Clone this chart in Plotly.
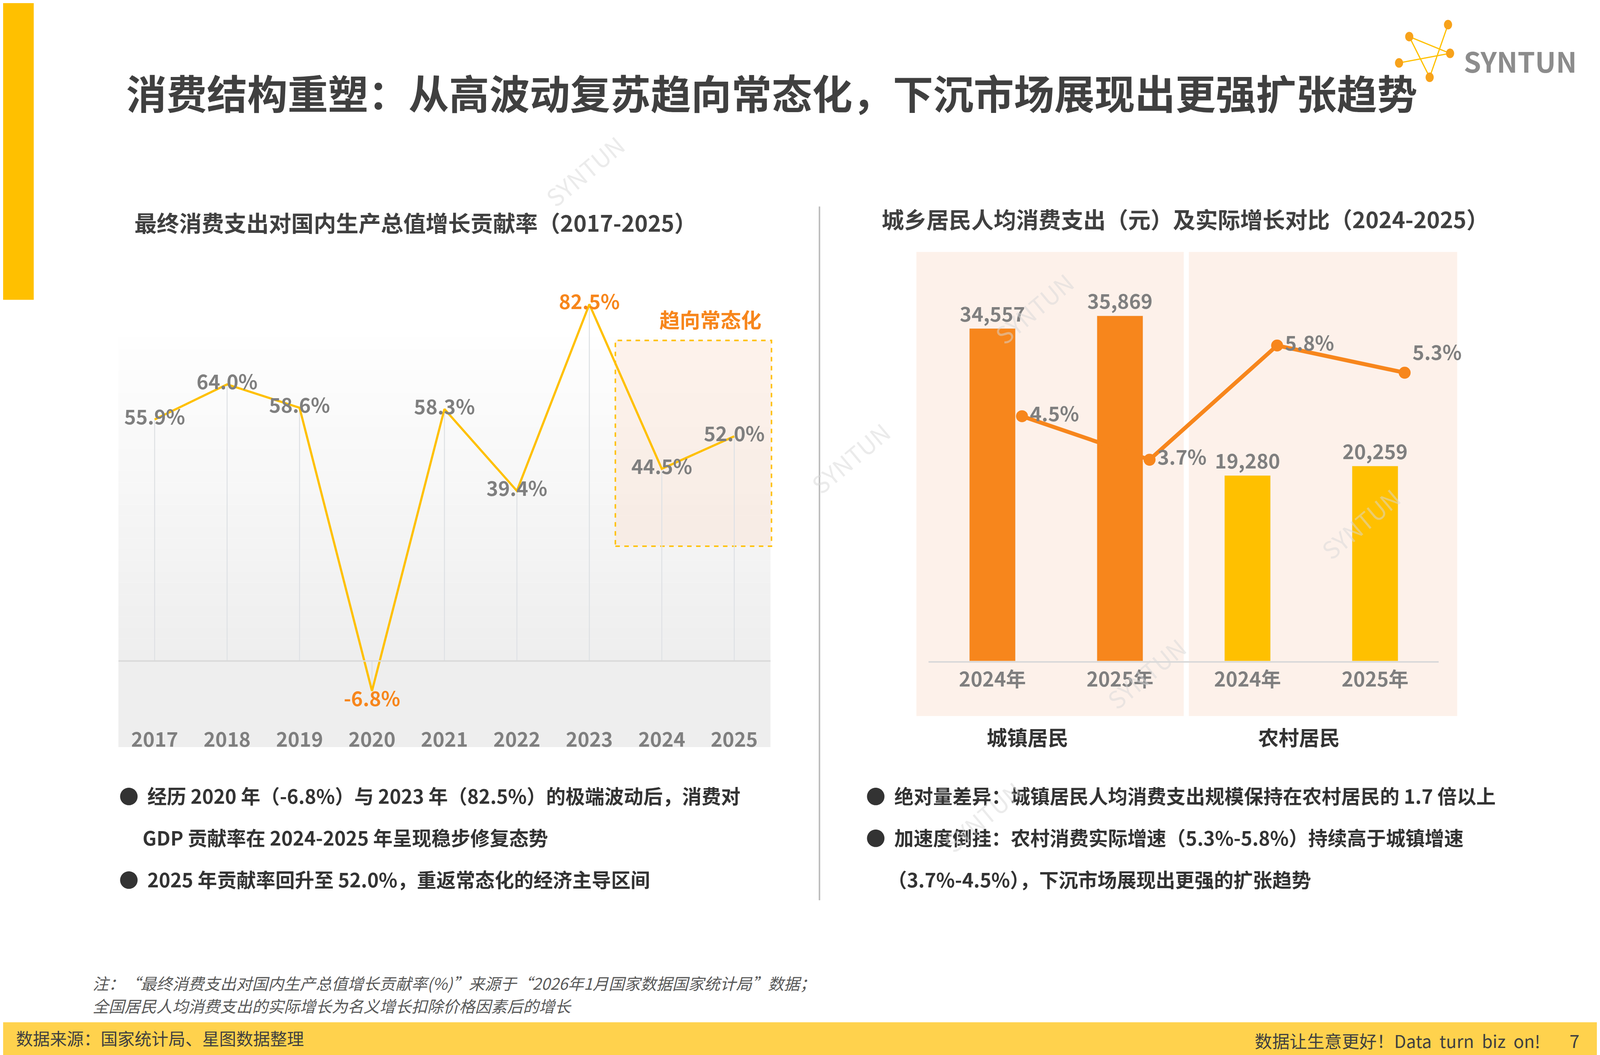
import plotly.graph_objects as go

# data
years = ["2017", "2018", "2019", "2020", "2021", "2022", "2023", "2024", "2025"]
contrib = [55.9, 64.0, 58.6, -6.8, 58.3, 39.4, 82.5, 44.5, 52.0]

groups = ["2024年", "2025年", "2024年", "2025年"]
spend = [34557, 35869, 19280, 20259]
growth = [4.5, 3.7, 5.8, 5.3]

S = 4000 / 1568
def px(x): return x / 1568
def py(y): return 1 - y / 882
def fs(v): return v * S

FONT = "Noto Sans CJK SC"
GRAY = "#7F7F7F"
ORANGE = "#F7861C"
YELLOW = "#FFC000"

fig = go.Figure()

# left: thin drop lines + line
fig.add_trace(go.Bar(x=list(range(9)), y=contrib, width=0.012,
                     marker_color="#DDDDDD", xaxis="x", yaxis="y", hoverinfo="skip"))
fig.add_trace(go.Scatter(x=list(range(9)), y=contrib, mode="lines",
                         line=dict(color="#FFC000", width=fs(2.2)), xaxis="x", yaxis="y"))
lab_col = [ORANGE if v in (82.5, -6.8) else GRAY for v in contrib]
lab_pos = ["bottom center" if v < 0 else "middle center" for v in contrib]
fig.add_trace(go.Scatter(x=list(range(9)), y=contrib, mode="text",
                         text=[f"<b>{v:.1f}%</b>" for v in contrib], textposition=lab_pos,
                         textfont=dict(family=FONT, size=fs(20), color=lab_col),
                         cliponaxis=False, xaxis="x", yaxis="y"))

# right: bars + growth line
fig.add_trace(go.Bar(x=list(range(4)), y=spend, width=0.36,
                     marker_color=[ORANGE, ORANGE, YELLOW, YELLOW],
                     text=[f"<b>{v:,}</b>" for v in spend], textposition="outside",
                     constraintext="none",
                     textfont=dict(family=FONT, size=fs(20), color=GRAY),
                     cliponaxis=False, xaxis="x2", yaxis="y2"))
fig.add_trace(go.Scatter(x=[i + 0.232 for i in range(4)], y=growth, mode="lines+markers+text",
                         line=dict(color=ORANGE, width=fs(4)),
                         marker=dict(color=ORANGE, size=fs(12)),
                         text=[f"<b>{v}%</b>" for v in growth],
                         textposition=["middle right", "middle right", "middle right", "top right"],
                         textfont=dict(family=FONT, size=fs(20), color=GRAY),
                         cliponaxis=False, xaxis="x2", yaxis="y3"))

# left gradient background
shapes = []
n = 30
for i in range(n):
    y0 = 270 + (550 - 270) * i / n
    y1 = 270 + (550 - 270) * (i + 1) / n
    g = int(255 - 17 * (i / n))
    shapes.append(dict(type="rect", xref="paper", yref="paper", x0=px(113), x1=px(752),
                       y0=py(y1), y1=py(y0), line_width=0, fillcolor=f"rgb({g},{g},{g})", layer="below"))
shapes.append(dict(type="rect", xref="paper", yref="paper", x0=px(113), x1=px(752),
                   y0=py(622), y1=py(550), line_width=0, fillcolor="#EEEEEE", layer="below"))
# highlight box
shapes.append(dict(type="rect", xref="paper", yref="paper", x0=px(600), x1=px(753),
                   y0=py(454), y1=py(282), line=dict(color="#FFC000", width=fs(1.5), dash="dash"),
                   fillcolor="rgba(252,220,200,0.35)", layer="below"))
# right group backgrounds
for a, b in [(895, 1157), (1162, 1425)]:
    shapes.append(dict(type="rect", xref="paper", yref="paper", x0=px(a), x1=px(b),
                       y0=py(596), y1=py(208), line_width=0, fillcolor="#FDF1EA", layer="below"))
# divider
shapes.append(dict(type="line", xref="paper", yref="paper", x0=px(800), x1=px(800),
                   y0=py(750), y1=py(170), line=dict(color="#BBBBBB", width=fs(1.5))))
# top-left yellow bar and footer bar
shapes.append(dict(type="rect", xref="paper", yref="paper", x0=0, x1=px(30), y0=py(248), y1=1,
                   line_width=0, fillcolor=YELLOW))
shapes.append(dict(type="rect", xref="paper", yref="paper", x0=0, x1=1, y0=0, y1=py(852),
                   line_width=0, fillcolor="#FFD24D"))
# baseline of left chart
shapes.append(dict(type="line", xref="paper", yref="paper", x0=px(113), x1=px(752), y0=py(550), y1=py(550),
                   line=dict(color="#D9D9D9", width=fs(1.5))))
# logo network
pts = [(1378, 28), (1416, 18), (1418, 42), (1398, 62), (1368, 50)]
for (x0, y0), (x1, y1) in [(pts[0], pts[2]), (pts[1], pts[3]), (pts[0], pts[3]), (pts[2], pts[4])]:
    shapes.append(dict(type="line", xref="paper", yref="paper", x0=px(x0), y0=py(y0), x1=px(x1), y1=py(y1),
                       line=dict(color=YELLOW, width=fs(1.2))))
for x, y in pts:
    shapes.append(dict(type="circle", xref="paper", yref="paper", x0=px(x - 4), x1=px(x + 4),
                       y0=py(y + 4), y1=py(y - 4), line_width=0, fillcolor="#F7A21B"))

def ann(text, x, y, size, color="#333333", bold=False, xanchor="left", italic=False, angle=0, opacity=1):
    t = f"<b>{text}</b>" if bold else text
    if italic:
        t = f"<i>{t}</i>"
    return dict(text=t, x=px(x), y=py(y), xref="paper", yref="paper", showarrow=False,
                xanchor=xanchor, yanchor="middle", textangle=angle, opacity=opacity,
                font=dict(family=FONT, size=fs(size), color=color))

anns = [
    ann("消费结构重塑：从高波动复苏趋向常态化，下沉市场展现出更强扩张趋势", 120, 74, 40.5, "#404040", True),
    ann("SYNTUN", 1487, 48, 28, "#8C8C8C", True, "center"),
    ann("最终消费支出对国内生产总值增长贡献率（2017-2025）", 128, 183, 22.5, "#404040", True),
    ann("城乡居民人均消费支出（元）及实际增长对比（2024-2025）", 860, 180, 22.5, "#404040", True),
    ann("趋向常态化", 693, 264, 20.5, ORANGE, True, "center"),
    ann("城镇居民", 1004, 613, 20.5, "#333333", True, "center"),
    ann("农村居民", 1270, 613, 20.5, "#333333", True, "center"),
    ann("●  经历 2020 年（-6.8%）与 2023 年（82.5%）的极端波动后，消费对", 113, 662, 19.5, "#333333", True),
    ann("GDP 贡献率在 2024-2025 年呈现稳步修复态势", 136, 697, 19.5, "#333333", True),
    ann("●  2025 年贡献率回升至 52.0%，重返常态化的经济主导区间", 113, 732, 19.5, "#333333", True),
    ann("●  绝对量差异：城镇居民人均消费支出规模保持在农村居民的 1.7 倍以上", 845, 662, 19.5, "#333333", True),
    ann("●  加速度倒挂：农村消费实际增速（5.3%-5.8%）持续高于城镇增速", 845, 697, 19.5, "#333333", True),
    ann("（3.7%-4.5%），下沉市场展现出更强的扩张趋势", 866, 732, 19.5, "#333333", True),
    ann("注：“最终消费支出对国内生产总值增长贡献率(%)”来源于“2026年1月国家数据国家统计局”数据；", 87, 819, 16, "#595959", italic=True),
    ann("全国居民人均消费支出的实际增长为名义增长扣除价格因素后的增长", 87, 838, 16, "#595959", italic=True),
    ann("数据来源：国家统计局、星图数据整理", 12, 865, 17, "#404040"),
    ann("数据让生意更好！Data  turn  biz  on!", 1507, 867, 17.5, "#404040", xanchor="right"),
    ann("7", 1540, 867, 18, "#404040", xanchor="center"),
]
for x, y in [(570, 140), (830, 380), (1010, 255), (1330, 435), (1120, 560), (960, 680)]:
    anns.append(ann("SYNTUN", x, y, 24, "#D9D9D9", False, "center", angle=-40, opacity=0.5))

tick = dict(family=FONT, size=fs(20), color=GRAY)
fig.update_layout(
    autosize=True, margin=dict(l=0, r=0, t=0, b=0),
    paper_bgcolor="white", plot_bgcolor="rgba(0,0,0,0)",
    showlegend=False, barmode="overlay",
    shapes=shapes, annotations=anns,
    xaxis=dict(domain=[px(113), px(752)], range=[-0.5, 8.5], tickvals=list(range(9)), ticktext=[f"<b>{y}</b>" for y in years],
               showgrid=False, zeroline=False, showline=False, tickfont=tick, ticks="",
               anchor="y"),
    yaxis=dict(domain=[py(604.7), py(188.4)], range=[-15, 100], visible=False, showgrid=False),
    xaxis2=dict(domain=[px(907), px(1407)], range=[-0.5, 3.5], tickvals=list(range(4)), ticktext=[f"<b>{g}</b>" for g in groups],
                showgrid=False, zeroline=False, showline=True, linecolor="#D9D9D9", linewidth=fs(1.5),
                ticks="", tickfont=tick, anchor="y2"),
    yaxis2=dict(domain=[py(550), py(188)], range=[0, 45000], visible=False, showgrid=False),
    yaxis3=dict(domain=[py(550), py(188)], range=[0, 7.96], visible=False, showgrid=False,
                overlaying="y2", anchor="x2"),
)
fig.write_html("out.html", default_width="100vw", default_height="100vh", config={"responsive": True})
